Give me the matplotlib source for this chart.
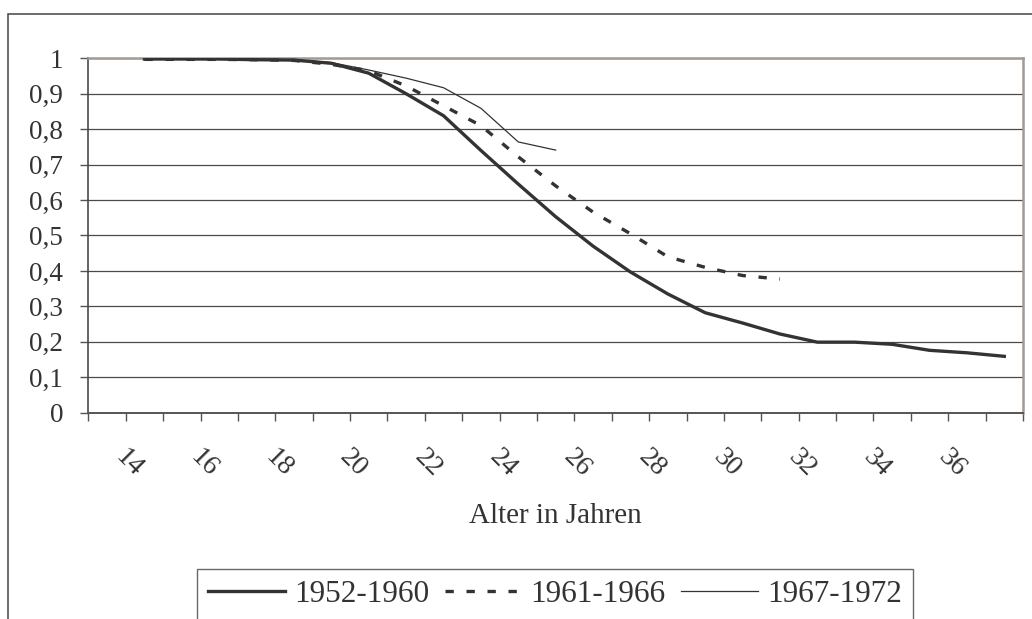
import matplotlib
matplotlib.use("Agg")
import matplotlib.pyplot as plt
from matplotlib.patches import Rectangle

plt.rcParams["font.family"] = ["Liberation Serif", "DejaVu Serif"]

# Anteil (0..1) nach Alter, drei Geburtskohorten
ages_1952 = list(range(14, 38))
share_1952 = [0.998, 0.998, 0.998, 0.996, 0.995, 0.986, 0.958, 0.900, 0.838, 0.740,
              0.645, 0.553, 0.470, 0.397, 0.335, 0.282, 0.253, 0.222, 0.199, 0.199,
              0.193, 0.176, 0.169, 0.159]
ages_1961 = list(range(14, 32))
share_1961 = [0.997, 0.997, 0.997, 0.996, 0.994, 0.983, 0.965, 0.922, 0.866, 0.810,
              0.722, 0.640, 0.566, 0.505, 0.440, 0.410, 0.387, 0.377]
ages_1967 = list(range(14, 26))
share_1967 = [0.998, 0.998, 0.998, 0.997, 0.996, 0.988, 0.967, 0.944, 0.917, 0.859,
              0.764, 0.741]

series_labels = ["1952-1960", "1961-1966", "1967-1972"]
label_ages = list(range(14, 37, 2))
y_ticks = [i / 10 for i in range(11)]
y_labels = ["0"] + [f"0,{i}" for i in range(1, 10)] + ["1"]

ink = "#333333"
fig = plt.figure(figsize=(10.32, 6.19), dpi=100)
ax = fig.add_axes([0.0856, 0.3333, 0.9057, 0.5725])

ax.plot(ages_1952, share_1952, color=ink, lw=2.4, solid_joinstyle="round",
        label=series_labels[0], zorder=3)
ax.plot(ages_1961, share_1961, color=ink, lw=2.4, dashes=(2.5, 3.8),
        label=series_labels[1], zorder=3)
ax.plot(ages_1967, share_1967, color=ink, lw=0.9, label=series_labels[2], zorder=3)

ax.set_xlim(12.5, 37.5)
ax.set_ylim(0, 1)

# category boundaries as tick marks, labels every second age
ax.set_xticks([a + 0.5 for a in range(12, 38)], minor=True)
ax.set_xticks([a - 0.413 for a in label_ages], [str(a) for a in label_ages])
ax.tick_params(axis="x", which="major", length=0, pad=23, labelsize=20,
               labelrotation=-45, labelcolor=ink)
ax.tick_params(axis="x", which="minor", length=6, width=1, color="#555555",
               direction="out")
for lab in ax.get_xticklabels():
    lab.set_ha("center")
    lab.set_va("top")

ax.set_yticks(y_ticks, y_labels)
ax.tick_params(axis="y", length=6, width=1, color="#555555", pad=12,
               labelsize=19.5, labelcolor=ink)

ax.grid(axis="y", color="#4a4a4a", lw=0.9)
ax.set_axisbelow(True)

ax.spines["left"].set_color("#4a4a4a")
ax.spines["left"].set_linewidth(1.2)
ax.spines["bottom"].set_color("#5a5450")
ax.spines["bottom"].set_linewidth(1.4)
for side in ["top", "right"]:
    ax.spines[side].set_color("#a39a93")
    ax.spines[side].set_linewidth(1.8)

ax.set_xlabel("Alter in Jahren", fontsize=21, color=ink, va="center")
ax.xaxis.set_label_coords(0.5, -0.2915)

leg = fig.legend(loc="upper left", bbox_to_anchor=(197 / 1032, 1 - 569 / 619),
                 ncol=3, fontsize=22.5, frameon=True, fancybox=False,
                 handlelength=2.45, handletextpad=0.3, columnspacing=0.5,
                 borderpad=0.35, borderaxespad=0)
leg.get_frame().set_edgecolor("#444444")
leg.get_frame().set_linewidth(1.0)
for t in leg.get_texts():
    t.set_color(ink)

# outer chart frame (runs off the right and bottom edges)
fig.patches.append(Rectangle((8 / 1032, -0.1), 1.2, 1 - 14 / 619 + 0.1,
                             transform=fig.transFigure, fill=False,
                             edgecolor="#444444", lw=1.1))

fig.savefig("out.png", dpi=100)
